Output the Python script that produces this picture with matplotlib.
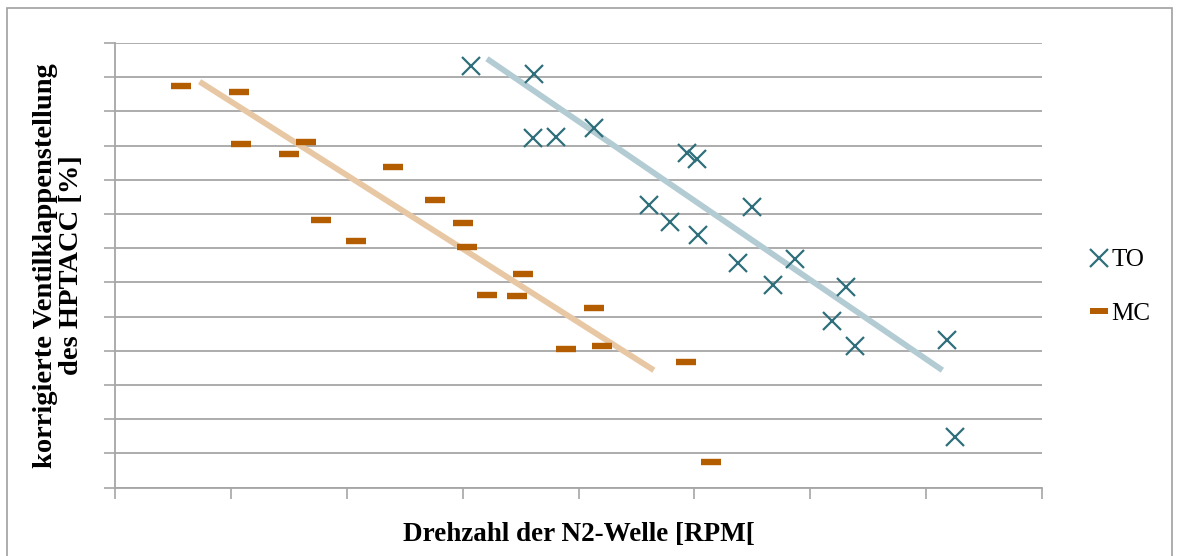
import matplotlib
matplotlib.use("Agg")
import matplotlib.pyplot as plt
from matplotlib.lines import Line2D
from matplotlib.patches import Rectangle

# --- data -------------------------------------------------------------
to_x = [3.07, 3.62, 3.61, 3.81, 4.13, 4.94, 5.02, 4.61, 4.79, 5.03,
        5.50, 5.38, 5.68, 5.87, 6.31, 6.19, 6.39, 7.18, 7.25]
to_y = [123.4, 120.8, 102.3, 102.6, 105.0, 97.7, 96.2, 82.7, 77.7, 73.9,
        82.1, 65.7, 59.3, 66.9, 58.7, 48.8, 41.4, 43.2, 14.8]

mc_x = [0.57, 1.07, 1.09, 1.50, 1.65, 1.78, 2.08, 2.40, 2.76, 3.00,
        3.04, 3.52, 3.21, 3.47, 4.13, 3.89, 4.20, 4.93, 5.14]
mc_y = [117.5, 115.6, 100.5, 97.6, 101.1, 78.2, 72.2, 93.8, 84.2, 77.4,
        70.2, 62.4, 56.3, 56.0, 52.5, 40.6, 41.3, 36.7, 7.4]

# linear trend lines (start / end)
to_trend_x = [3.21, 7.14]
to_trend_y = [125.4, 34.3]
mc_trend_x = [0.73, 4.65]
mc_trend_y = [118.7, 34.3]

series_labels = ["TO", "MC"]
x_label = "Drehzahl der N2-Welle [RPM["
y_label = "korrigierte Ventilklappenstellung\ndes HPTACC [%]"

# --- styling ----------------------------------------------------------
TO_COLOR = "#2f6f7b"
MC_COLOR = "#b35c00"
TO_TREND = "#b3ccd3"
MC_TREND = "#e8c8a4"
GRID = "#a6a6a6"
SERIF = ["Liberation Serif", "DejaVu Serif"]

fig = plt.figure(figsize=(11.8, 5.56), dpi=100)
ax = fig.add_axes([115 / 1180, 1 - 487.5 / 556, (1042 - 115) / 1180, (487.5 - 43) / 556])

# outer chart-area frame
fig.patches.append(Rectangle((7 / 1180, -0.05), (1172 - 7) / 1180, 1 - 8 / 556 + 0.05,
                             transform=fig.transFigure, fill=False,
                             edgecolor="#a0a0a0", linewidth=1.2))

ax.set_xlim(0, 8)
ax.set_ylim(0, 130)
ax.set_xticks(range(0, 9))
ax.set_yticks(range(0, 131, 10))
ax.set_xticklabels([])
ax.set_yticklabels([])
ax.tick_params(axis="both", direction="out", length=8, width=1.2, color=GRID)

ax.grid(axis="y", color=GRID, linewidth=1.3)
ax.set_axisbelow(True)
for side in ("top", "right"):
    ax.spines[side].set_visible(False)
for side in ("left", "bottom"):
    ax.spines[side].set_color(GRID)
    ax.spines[side].set_linewidth(1.3)

ax.plot(mc_trend_x, mc_trend_y, color=MC_TREND, linewidth=4.2, solid_capstyle="butt", zorder=2)
ax.plot(to_trend_x, to_trend_y, color=TO_TREND, linewidth=4.2, solid_capstyle="butt", zorder=2)

ax.plot(to_x, to_y, linestyle="none", marker="x", markersize=12.5,
        markeredgewidth=1.6, color=TO_COLOR, zorder=3)
ax.plot(mc_x, mc_y, linestyle="none", marker="_", markersize=14,
        markeredgewidth=4.6, color=MC_COLOR, zorder=3)

ax.set_xlabel(x_label, fontsize=19.5, fontweight="bold", family=SERIF)
ax.xaxis.set_label_coords(0.5, (487.5 - 522) / 444.5)
ax.set_ylabel(y_label, fontsize=20.5, fontweight="bold", family=SERIF,
              linespacing=1.05)
ax.yaxis.set_label_coords((84 - 115) / 927, 0.5)

handles = [
    Line2D([], [], linestyle="none", marker="x", markersize=12.5,
           markeredgewidth=1.6, color=TO_COLOR),
    Line2D([], [], linestyle="none", marker="_", markersize=13,
           markeredgewidth=4.3, color=MC_COLOR),
]
leg = fig.legend(handles, series_labels, loc="center left",
                 bbox_to_anchor=(1064 / 1180, 1 - 287 / 556),
                 frameon=False, handlelength=1.0, handletextpad=0.0,
                 labelspacing=1.25, prop={"family": SERIF, "size": 18})

fig.savefig("out.png", dpi=100)
